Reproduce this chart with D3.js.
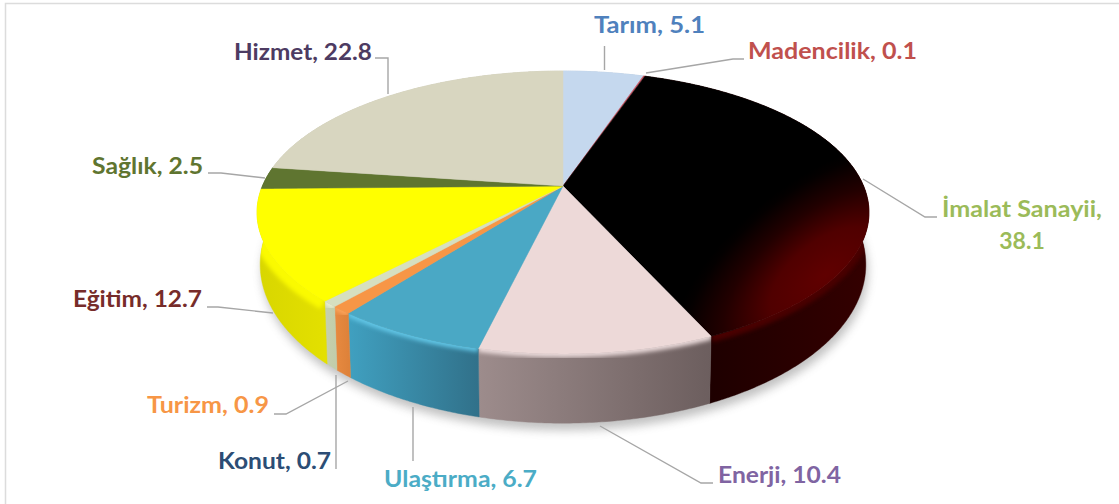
<!DOCTYPE html>
<html><head><meta charset="utf-8">
<script src="https://cdn.jsdelivr.net/npm/d3@7/dist/d3.min.js"></script>
<style>html,body{margin:0;padding:0;background:#fff}svg{display:block}text{font-family:Lato,Carlito,sans-serif;font-weight:700}</style>
</head><body><svg id="c" width="1119" height="504"></svg>
<script>
const categories = ["Tarım","Madencilik","İmalat Sanayii","Enerji","Ulaştırma","Turizm","Konut","Eğitim","Sağlık","Hizmet"];
const values = [5.1,0.1,38.1,10.4,6.7,0.9,0.7,12.7,2.5,22.8];
const topColors = ["#c5d8ee","#c9505c","url(#imalatTop)","#edd9d8","#4aa8c5","#f79646","#d6dfc0","#ffff00","#5f7530","#d8d6c0"];
const wallColors = [["#a9b9cc","#a9b9cc"],["#7a2020","#7a2020"],["#150000","#340000"],["#9d8c8c","#6c5e5e"],["#40a0c0","#31718a"],["#e88a40","#de823a"],["#c6d0ae","#c2cdaa"],["#d8d600","#e3e000"],["#55692b","#55692b"],["#c0beaa","#c0beaa"]];
const edgeColors = ["#c5d8ee","#c9505c","#4a0000","#eadada","#62c6e6","#fba35a","#e8eed2","#fafa00","#5f7530","#d8d6c0"];
const edgeWidths = [7,7,12,7,7,7,7,18,7,7];
const labelColors = ["#4f81bd","#c0504d","#9bbb59","#8064a2","#4bacc6","#f79646","#2c4d75","#772c2a","#5f7530","#4d3b62"];
const labelLines = [["Tarım, 5.1"],["Madencilik, 0.1"],["İmalat Sanayii,","38.1"],["Enerji, 10.4"],["Ulaştırma, 6.7"],["Turizm, 0.9"],["Konut, 0.7"],["Eğitim, 12.7"],["Sağlık, 2.5"],["Hizmet, 22.8"]];
// layout of the annotation text and leader lines, kept apart from the data
const labelBoxes = [[594,705,25],[748,917,51],[942,1102,209],[718,841,475],[384,537,479],[147,269,405],[218,331,461],[73,202,299],[92,203,166],[234,372,51.5]];
const leaders = [
 [[604.5,46],[604.5,70]],
 [[744,59],[733,59],[646,73]],
 [[937,217],[925,217],[863,179]],
 [[713,483],[701,483],[600,426]],
 [[413,461],[413,407]],
 [[274,414],[286,414],[348,381]],
 [[336,469],[336,375]],
 [[207,307],[218,307],[273,313]],
 [[208,173],[221,173],[265,178]],
 [[375,58],[388,58],[388,94]]
];

const svg = d3.select("#c");
const defs = svg.append("defs");
const cx = 563, k = 0.187;
const topFace = {cy:186, h:136.5, r:300.6};
const botFace = {cy:235, h:153, r:297.5};
const project = (a, f) => {
  const u = Math.sin(a), v = Math.cos(a), w = 1 + k * v;
  return [cx + f.r * u / w, f.cy - f.h * v / w];
};
const pie = d3.pie().sort(null).value(d => d)(values);
const step = Math.PI / 360;
const samples = (a0, a1) => { const r = d3.range(a0, a1, step); r.push(a1); return r; };
const line = d3.line();

// frame
svg.append("rect").attr("x",5.5).attr("y",3.5).attr("width",1300).attr("height",700).attr("fill","none").attr("stroke","#dcdcdc").attr("stroke-width",1.5);

// filters + gradients
const blur = (id, s) => defs.append("filter").attr("id",id).attr("x","-20%").attr("y","-20%").attr("width","140%").attr("height","140%")
  .append("feGaussianBlur").attr("stdDeviation",s);
blur("shadowBlur",5); blur("edgeBlur",2.2);
const rg = defs.append("radialGradient").attr("id","imalatTop").attr("gradientUnits","userSpaceOnUse")
  .attr("cx",0).attr("cy",0).attr("r",1)
  .attr("gradientTransform","translate(825,275) rotate(-38.5) scale(185,95)");
[[0,"#600000"],[0.35,"#500000"],[0.65,"#220000"],[0.92,"#040000"],[1,"#000"]].forEach(s=>rg.append("stop").attr("offset",s[0]).attr("stop-color",s[1]));

// shadow
const full = samples(0, 2*Math.PI);
svg.append("path").attr("d", line(full.map(a=>{const p=project(a,botFace);return [p[0]+2,p[1]+7];}))+"Z")
  .attr("fill","#777").attr("opacity",0.45).attr("filter","url(#shadowBlur)");

// walls
pie.forEach((s,i)=>{
  const as = samples(s.startAngle, s.endAngle);
  const topPts = as.map(a=>project(a,topFace));
  const botPts = as.map(a=>project(a,botFace));
  const wall = line(topPts.concat(botPts.slice().reverse()))+"Z";
  const xs = topPts.map(p=>p[0]);
  const g = defs.append("linearGradient").attr("id","wall"+i).attr("gradientUnits","userSpaceOnUse")
    .attr("x1",d3.min(xs)).attr("x2",d3.max(xs)).attr("y1",0).attr("y2",0);
  g.append("stop").attr("offset",0).attr("stop-color",wallColors[i][0]);
  g.append("stop").attr("offset",1).attr("stop-color",wallColors[i][1]);
  defs.append("clipPath").attr("id","clip"+i).append("path").attr("d",wall);
  svg.append("path").attr("d",wall).attr("fill","url(#wall"+i+")").attr("stroke","url(#wall"+i+")").attr("stroke-width",0.4);
  svg.append("g").attr("clip-path","url(#clip"+i+")")
    .append("path").attr("d",line(topPts)).attr("fill","none").attr("stroke",edgeColors[i]).attr("stroke-width",edgeWidths[i]).attr("filter","url(#edgeBlur)");
});

// top faces
pie.forEach((s,i)=>{
  const pts = [[cx,topFace.cy]].concat(samples(s.startAngle,s.endAngle).map(a=>project(a,topFace)));
  svg.append("path").attr("d",line(pts)+"Z").attr("fill",topColors[i]).attr("stroke",topColors[i]).attr("stroke-width",0.5).attr("stroke-linejoin","round");
});

// leaders
leaders.forEach(l=>svg.append("path").attr("d",line(l)).attr("fill","none").attr("stroke","#a6a6a6").attr("stroke-width",1.4));

// labels
categories.forEach((c,i)=>{
  const b = labelBoxes[i], ls = labelLines[i];
  svg.append("text").attr("x",b[0]).attr("y",b[2]+8).attr("font-size",23).attr("fill",labelColors[i])
    .attr("textLength",b[1]-b[0]).attr("lengthAdjust","spacingAndGlyphs").text(ls[0]);
  if(ls[1]) svg.append("text").attr("x",(b[0]+b[1])/2).attr("y",b[2]+40).attr("text-anchor","middle").attr("font-size",23).attr("fill",labelColors[i]).text(ls[1]);
});
</script></body></html>
